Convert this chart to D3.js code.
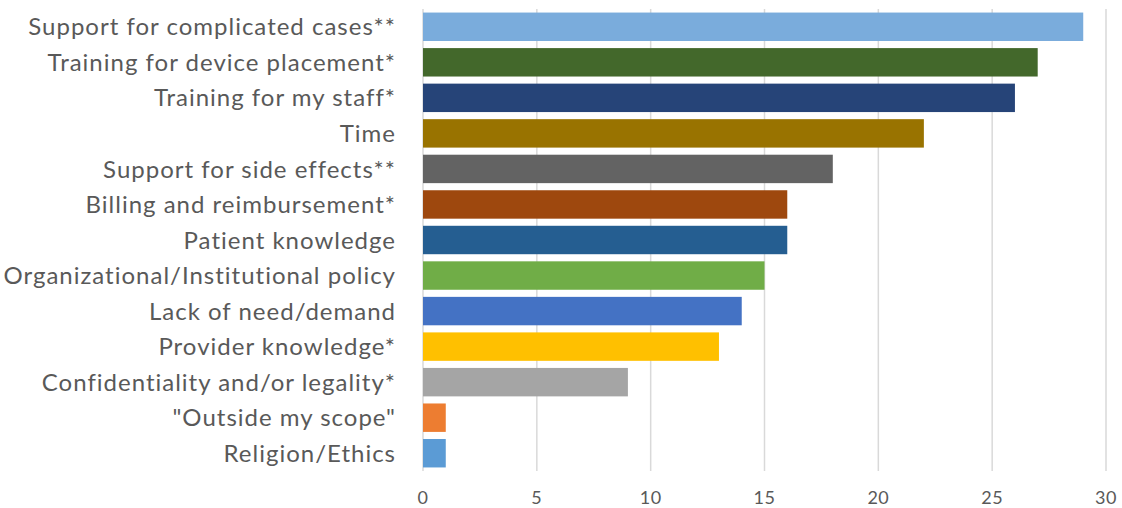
<!DOCTYPE html>
<html>
<head>
<meta charset="utf-8">
<script src="https://cdn.jsdelivr.net/npm/d3@7"></script>
<style>
  body { margin: 0; background: #fff; }
  text { font-family: Lato, "Open Sans", sans-serif; fill: #595959; }
</style>
</head>
<body>
<div class="chart"></div>
<script>
// data, top to bottom
const categories = [
    "Support for complicated cases**",
    "Training for device placement*",
    "Training for my staff*",
    "Time",
    "Support for side effects**",
    "Billing and reimbursement*",
    "Patient knowledge",
    "Organizational/Institutional policy",
    "Lack of need/demand",
    "Provider knowledge*",
    "Confidentiality and/or legality*",
    "\"Outside my scope\"",
    "Religion/Ethics"
];
const values = [29, 27, 26, 22, 18, 16, 16, 15, 14, 13, 9, 1, 1];
const colors = ["#7aacdc", "#43682b", "#264478", "#997300", "#636363", "#9e480e",
    "#255e91", "#70ad47", "#4472c4", "#ffc000", "#a5a5a5", "#ed7d31", "#5b9bd5"];
const xTicks = [0, 5, 10, 15, 20, 25, 30];

const width = 1122, height = 508;
const margin = {top: 9, right: 16, bottom: 37, left: 423};

const svg = d3.select(".chart").append("svg")
    .attr("width", width)
    .attr("height", height);

const x = d3.scaleLinear()
    .domain([0, 30])
    .range([margin.left, width - margin.right]);

const y = d3.scaleBand()
    .domain(categories)
    .range([margin.top, height - margin.bottom])
    .paddingInner(0.2)
    .paddingOuter(0.1);

// gridlines
svg.append("g")
    .selectAll("line")
    .data(xTicks)
    .join("line")
    .attr("x1", d => x(d))
    .attr("x2", d => x(d))
    .attr("y1", margin.top)
    .attr("y2", height - margin.bottom)
    .attr("stroke", "#d9d9d9")
    .attr("stroke-width", 1.5);

// bars
svg.append("g")
    .selectAll("rect")
    .data(values)
    .join("rect")
    .attr("x", x(0))
    .attr("y", (d, i) => y(categories[i]))
    .attr("width", d => x(d) - x(0))
    .attr("height", y.bandwidth())
    .attr("fill", (d, i) => colors[i]);

// category labels
svg.append("g")
    .selectAll("text")
    .data(categories)
    .join("text")
    .attr("x", margin.left - 27)
    .attr("y", d => y(d) + y.bandwidth() / 2)
    .attr("dy", "0.36em")
    .attr("text-anchor", "end")
    .style("font-size", "24px")
    .style("letter-spacing", "1px")
    .text(d => d);

// x tick labels
svg.append("g")
    .selectAll("text")
    .data(xTicks)
    .join("text")
    .attr("x", d => x(d))
    .attr("y", 498)
    .attr("dy", "0.36em")
    .attr("text-anchor", "middle")
    .style("font-size", "18px")
    .style("letter-spacing", "0.5px")
    .text(d => d);
</script>
</body>
</html>
